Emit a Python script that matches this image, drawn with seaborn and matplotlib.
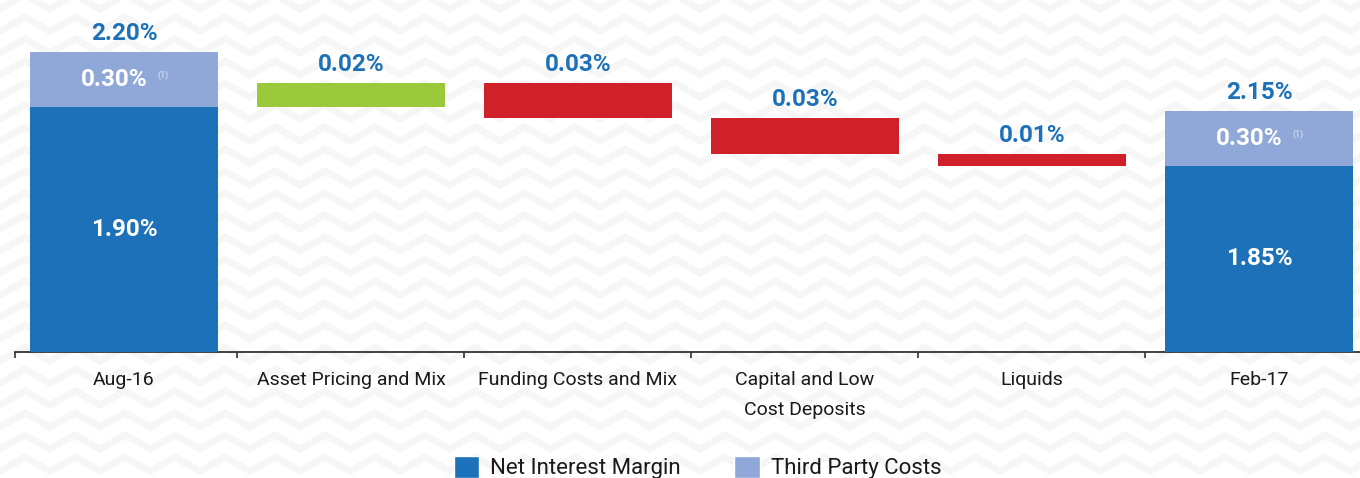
import numpy as np
import pandas as pd
import matplotlib
matplotlib.use("Agg")
import matplotlib.pyplot as plt
import seaborn as sns
from matplotlib.patches import Patch

# ---- data ----
categories = ["Aug-16", "Asset Pricing and Mix", "Funding Costs and Mix",
              "Capital and Low\nCost Deposits", "Liquids", "Feb-17"]
nim_start = 1.90
nim_end = 1.85
changes = [0.02, -0.03, -0.03, -0.01]
third_party = [0.30, 0.30]
totals = [2.20, 2.15]

# ---- styling ----
BLUE = "#1c71b8"
LIGHT = "#8fa8d8"
GREEN = "#9aca3c"
RED = "#d0202a"
TEXT = "#1a1a1a"
y_floor = 1.692          # axis does not start at zero
tpc_scale = 0.155        # third party segment drawn on a compressed scale
FONT = ["Roboto", "DejaVu Sans"]

sns.set_theme(style="white")
plt.rcParams["font.family"] = FONT

# waterfall table
levels = np.cumsum([nim_start] + changes)
bottoms = [y_floor] + [min(a, b) for a, b in zip(levels[:-1], levels[1:])] + [y_floor]
heights = [nim_start - y_floor] + [abs(c) for c in changes] + [nim_end - y_floor]
colors = [BLUE] + [GREEN if c > 0 else RED for c in changes] + [BLUE]
df = pd.DataFrame({"cat": categories, "bottom": bottoms, "height": heights})

fig = plt.figure(figsize=(13.6, 4.78), dpi=100)

# faint chevron background
bg = fig.add_axes([0, 0, 1, 1], zorder=-5)
bg.set_xlim(0, 1360)
bg.set_ylim(478, 0)
bg.axis("off")
zx = np.arange(-25, 1400, 25)
for row in np.arange(-20, 500, 22):
    zy = row + np.where(np.arange(len(zx)) % 2 == 0, -7, 7)
    bg.plot(zx, zy, color="#f6f6f6", lw=5, solid_joinstyle="miter")

ax = fig.add_axes([15 / 1360, 126 / 478, 1345 / 1360, 352 / 478])
ax.patch.set_alpha(0)

sns.barplot(data=df, x="cat", y="height", bottom=df["bottom"].values,
            color=BLUE, width=0.83, ax=ax, zorder=3)
for p, c in zip(ax.patches, colors):
    p.set_facecolor(c)
    p.set_edgecolor("none")

# third party costs on top of the start / end bars
ends = [0, len(categories) - 1]
nim_vals = [nim_start, nim_end]
tpc_h = [v * tpc_scale for v in third_party]
ax.bar(ends, tpc_h, bottom=nim_vals, width=0.83, color=LIGHT,
       edgecolor="none", linewidth=0, zorder=3)

ax.set_xlim(-0.48, 5.445)
ax.set_ylim(y_floor, y_floor + 352 / 1180)

# labels
VAL = 17.5
lab_kw = dict(fontsize=VAL, fontweight="bold", ha="center", va="bottom",
              textcoords="offset points", family=FONT)
in_kw = dict(fontsize=VAL, fontweight="bold", ha="center", va="center",
             textcoords="offset points", family=FONT, color="white")
for i, tot, nv, th, tp in zip(ends, totals, nim_vals, tpc_h, third_party):
    ax.annotate(f"{tot:.2f}%", (i, nv + th), xytext=(0, 5), color=BLUE, **lab_kw)
    ax.annotate(f"{tp:.2f}%", (i, nv + th / 2), xytext=(-7, 0), **in_kw)
    ax.annotate("(1)", (i, nv + th / 2), xytext=(28, 3), color="#e3e8f3",
                fontsize=6.5, ha="center", va="center",
                textcoords="offset points", family=FONT)
    ax.annotate(f"{nv:.2f}%", (i, (nv + y_floor) / 2), xytext=(0, 0), **in_kw)
for k, c in enumerate(changes):
    i = k + 1
    top = bottoms[i] + heights[i]
    ax.annotate(f"{abs(c):.2f}%", (i, top), xytext=(0, 5), color=BLUE, **lab_kw)

# axis styling
sns.despine(ax=ax, left=True)
ax.spines["bottom"].set_color("#333333")
ax.spines["bottom"].set_linewidth(1.3)
ax.set_yticks([])
ax.set_xlabel("")
ax.set_ylabel("")
ax.tick_params(axis="x", which="major", length=0, pad=14, labelsize=14,
               labelcolor=TEXT)
ax.set_xticks(range(len(categories)), categories)
for t in ax.get_xticklabels():
    t.set_linespacing(1.85)
    t.set_verticalalignment("top")
ax.set_xticks([-0.48, 0.5, 1.5, 2.5, 3.5, 4.5], minor=True)
ax.tick_params(axis="x", which="minor", length=4, width=1.2, color="#333333",
               direction="out", bottom=True)

handles = [Patch(facecolor=BLUE, label="Net Interest Margin"),
           Patch(facecolor=LIGHT, label="Third Party Costs")]
fig.legend(handles=handles, loc="upper center", bbox_to_anchor=(0.513, 0.07),
           ncol=2, frameon=False, fontsize=16, handlelength=1.15, handleheight=1.15,
           handletextpad=0.5, columnspacing=2.4, borderpad=0, labelcolor=TEXT)

fig.savefig("out.png", dpi=100)
